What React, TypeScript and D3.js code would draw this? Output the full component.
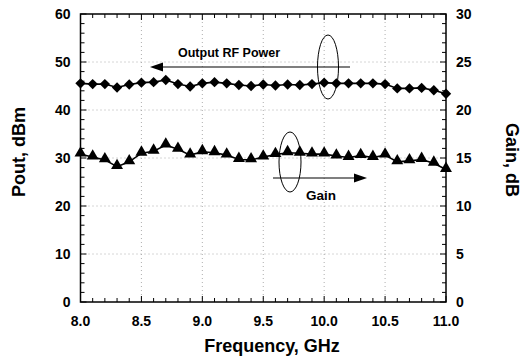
import React from "react";
import * as d3 from "d3";

const freqs: number[] = [8.0, 8.1, 8.2, 8.3, 8.4, 8.5, 8.6, 8.7, 8.8, 8.9, 9.0, 9.1, 9.2, 9.3, 9.4, 9.5, 9.6, 9.7, 9.8, 9.9, 10.0, 10.1, 10.2, 10.3, 10.4, 10.5, 10.6, 10.7, 10.8, 10.9, 11.0];
const pout: number[] = [45.55, 45.4, 45.4, 44.7, 45.3, 45.7, 45.8, 46.25, 45.4, 44.9, 45.55, 45.8, 45.55, 45.2, 45.0, 45.3, 45.1, 45.3, 45.2, 45.4, 45.7, 45.55, 45.55, 45.55, 45.55, 45.4, 44.5, 44.5, 44.6, 44.1, 43.4];
const gain: number[] = [15.4, 15.1, 14.8, 14.1, 14.6, 15.5, 15.7, 16.35, 15.9, 15.3, 15.65, 15.55, 15.3, 14.85, 14.8, 15.1, 15.35, 15.55, 15.5, 15.4, 15.4, 15.2, 15.05, 15.25, 15.05, 15.3, 14.6, 14.7, 14.85, 14.45, 13.8];
const xTicks: number[] = [8.0, 8.5, 9.0, 9.5, 10.0, 10.5, 11.0];
const leftTicks: number[] = [0, 10, 20, 30, 40, 50, 60];
const rightTicks: number[] = [0, 5, 10, 15, 20, 25, 30];

const FONT = "'Liberation Sans', Arial, Helvetica, sans-serif";

export default function App() {
  const W = 522, H = 360;
  const L = 80.5, R = 446, T = 14, B = 302;
  const x = d3.scaleLinear().domain([8, 11]).range([L, R]);
  const yL = d3.scaleLinear().domain([0, 60]).range([B, T]);
  const yR = d3.scaleLinear().domain([0, 30]).range([B, T]);

  const poutLine = d3.line<number>().x((_, i) => x(freqs[i])).y((d) => yL(d))(pout) || "";
  const gainLine = d3.line<number>().x((_, i) => x(freqs[i])).y((d) => yR(d))(gain) || "";
  const tri = d3.symbol().type(d3.symbolTriangle).size(62)() || "";
  const sq = d3.symbol().type(d3.symbolSquare).size(54)() || "";

  const xMinor = d3.range(80, 111, 1).map((v) => v / 10);
  const lMinor = d3.range(0, 61, 2);
  const rMinor = d3.range(0, 31, 1);
  const isMajorX = (t: number) => xTicks.some((m) => Math.abs(m - t) < 1e-6);

  return (
    <svg width={W} height={H} style={{ position: "absolute", left: 0, top: 0, background: "#fff" }}>
      <rect x={0} y={0} width={W} height={H} fill="#fff" />
      {/* grid */}
      <g stroke="#999" strokeWidth={0.8} strokeDasharray="1,3">
        {xTicks.slice(1, -1).map((t) => (
          <line key={"gx" + t} x1={x(t)} x2={x(t)} y1={T} y2={B} />
        ))}
        {leftTicks.slice(1, -1).map((t) => (
          <line key={"gy" + t} x1={L} x2={R} y1={yL(t)} y2={yL(t)} />
        ))}
      </g>
      {/* ticks */}
      <g stroke="#000" strokeWidth={1}>
        {xMinor.map((t) => (
          <g key={"xm" + t}>
            <line x1={x(t)} x2={x(t)} y1={B} y2={B - (isMajorX(t) ? 6 : 4)} />
            <line x1={x(t)} x2={x(t)} y1={T} y2={T + (isMajorX(t) ? 6 : 4)} />
          </g>
        ))}
        {lMinor.map((t) => (
          <line key={"lm" + t} x1={L} x2={L + (t % 10 === 0 ? 6 : 4)} y1={yL(t)} y2={yL(t)} />
        ))}
        {rMinor.map((t) => (
          <line key={"rm" + t} x1={R} x2={R - (t % 5 === 0 ? 6 : 4)} y1={yR(t)} y2={yR(t)} />
        ))}
      </g>
      {/* frame */}
      <rect x={L} y={T} width={R - L} height={B - T} fill="none" stroke="#000" strokeWidth={1.5} />
      {/* series */}
      <path d={poutLine} fill="none" stroke="#000" strokeWidth={1.6} />
      <path d={gainLine} fill="none" stroke="#000" strokeWidth={1.6} />
      {pout.map((v, i) => (
        <path key={"d" + i} d={sq} transform={`translate(${x(freqs[i])},${yL(v)}) rotate(45)`} fill="#000" />
      ))}
      {gain.map((v, i) => (
        <path key={"t" + i} d={tri} transform={`translate(${x(freqs[i])},${yR(v) - 1})`} fill="#000" />
      ))}
      {/* tick labels */}
      <g fontFamily={FONT} fontWeight="bold" fontSize={14} fill="#000">
        {leftTicks.map((t) => (
          <text key={"lt" + t} x={L - 10} y={yL(t)} dy="0.35em" textAnchor="end">{t}</text>
        ))}
        {rightTicks.map((t) => (
          <text key={"rt" + t} x={R + 10} y={yR(t)} dy="0.35em" textAnchor="start">{t}</text>
        ))}
        {xTicks.map((t) => (
          <text key={"xt" + t} x={x(t)} y={326} textAnchor="middle">{t.toFixed(1)}</text>
        ))}
      </g>
      {/* axis titles */}
      <g fontFamily={FONT} fontWeight="bold" fontSize={18} fill="#000">
        <text x={272} y={352} textAnchor="middle">Frequency, GHz</text>
        <text transform="translate(25,152) rotate(-90)" textAnchor="middle">Pout, dBm</text>
        <text transform="translate(506,160) rotate(90)" textAnchor="middle">Gain, dB</text>
      </g>
      {/* annotations */}
      <g fontFamily={FONT} fontWeight="bold" fontSize={12.5} fill="#000">
        <text x={178} y={57}>Output RF Power</text>
        <text x={306} y={200} fontSize={13.5}>Gain</text>
      </g>
      <line x1={350} x2={160} y1={67} y2={67} stroke="#000" strokeWidth={1.2} />
      <path d="M150,67 L163,62.5 L163,71.5 Z" fill="#000" />
      <ellipse cx={328} cy={67} rx={10.5} ry={32} fill="none" stroke="#000" strokeWidth={1} />
      <line x1={273} x2={357} y1={178} y2={178} stroke="#000" strokeWidth={1.2} />
      <path d="M367,178 L354,173.5 L354,182.5 Z" fill="#000" />
      <ellipse cx={290} cy={162} rx={11} ry={30} fill="none" stroke="#000" strokeWidth={1} />
    </svg>
  );
}
